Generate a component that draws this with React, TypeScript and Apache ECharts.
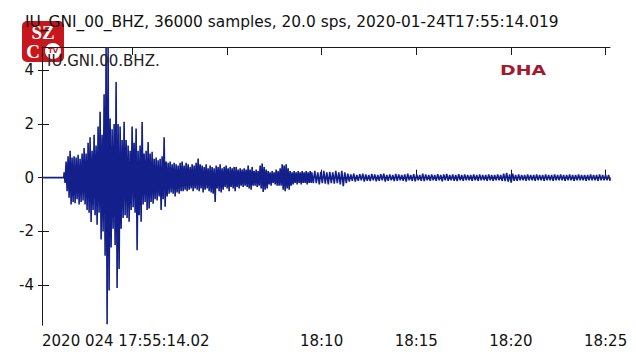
import React, { useEffect, useRef } from "react";
import * as echarts from "echarts";

const TITLE = "IU_GNI_00_BHZ, 36000 samples, 20.0 sps, 2020-01-24T17:55:14.019";
const STATION = "IU.GNI.00.BHZ.";
const START_LABEL = "2020 024 17:55:14.02";
const DURATION_SEC = 1800;
const Y_MIN = -5.48;
const Y_MAX = 4.86;
const yTicks = [-4, -2, 0, 2, 4];
const xTickSeconds = [285.98, 585.98, 885.98, 1185.98, 1485.98, 1785.98];
const xTickLabels = ["18:00", "18:05", "18:10", "18:15", "18:20", "18:25"];
const xLabelShown = [false, false, true, true, true, true];

// Envelope of the trace (peak up / peak down)
const denseStartSec = 70;
const denseStepSec = 6.34;
const denseUpper = [
  0.2, 0.6, 0.8, 1.0, 0.75, 0.8, 0.75, 0.85, 0.7, 0.9,
  1.1, 0.9, 1.3, 1.5, 1.0, 1.6, 1.2, 1.9, 2.45, 1.6,
  3.1, 4.86, 4.86, 2.2, 1.8, 2.0, 3.56, 2.0, 1.9, 1.4,
  2.08, 1.4, 1.2, 1.0, 1.9, 1.3, 1.83, 1.0, 1.2, 2.07,
  0.9, 1.0, 1.33, 0.9, 0.96, 0.7, 0.75, 0.65, 0.7, 0.8,
  1.5, 0.6, 0.55, 0.6, 0.5, 0.55, 0.5, 0.45, 0.55, 0.6,
  0.45, 0.55, 0.5, 0.4, 0.5, 0.45, 0.55, 0.71, 0.5, 0.45,
  0.4, 0.5, 0.35, 0.45, 0.4, 0.35, 0.45, 0.4, 0.5, 0.35,
  0.4, 0.45, 0.35, 0.4, 0.35, 0.4, 0.4, 0.3, 0.35, 0.3,
  0.35, 0.3, 0.45, 0.3, 0.4, 0.25, 0.3, 0.25, 0.45, 0.53,
  0.4, 0.3, 0.25, 0.2, 0.25, 0.2, 0.3, 0.25, 0.35, 0.5,
  0.45, 0.5, 0.35, 0.25, 0.2, 0.25, 0.2, 0.25, 0.2, 0.25,
  0.2, 0.25, 0.2, 0.25,
];
const denseLower = [
  -0.2, -0.5, -0.75, -1.0, -0.9, -0.95, -0.8, -1.0, -0.9, -0.85,
  -1.0, -1.2, -1.3, -1.65, -1.2, -1.4, -1.75, -1.3, -2.3, -2.0,
  -2.9, -5.45, -4.2, -2.6, -1.9, -2.5, -4.1, -3.4, -1.9, -1.5,
  -1.4, -1.5, -1.64, -1.2, -1.1, -1.3, -2.7, -1.4, -1.64, -1.0,
  -0.9, -1.2, -1.15, -0.9, -0.97, -0.8, -0.85, -0.7, -1.2, -0.8,
  -1.08, -0.7, -0.6, -0.55, -0.6, -0.7, -0.55, -0.6, -0.5, -0.5,
  -0.45, -0.5, -0.45, -0.4, -0.5, -0.4, -0.45, -0.5, -0.4, -0.55,
  -0.45, -0.4, -0.5, -0.55, -0.6, -0.9, -0.4, -0.5, -0.55, -0.45,
  -0.35, -0.4, -0.5, -0.35, -0.4, -0.5, -0.35, -0.4, -0.3, -0.35,
  -0.3, -0.35, -0.4, -0.45, -0.3, -0.3, -0.35, -0.3, -0.4, -0.53,
  -0.45, -0.4, -0.25, -0.3, -0.2, -0.25, -0.3, -0.3, -0.3, -0.45,
  -0.5, -0.4, -0.45, -0.3, -0.25, -0.2, -0.25, -0.2, -0.25, -0.2,
  -0.2, -0.25, -0.2, -0.2,
];
const tailStartSec = 855;
const tailStepSec = 9.5;
const tailUpper = [
  0.2, 0.25, 0.2, 0.22, 0.25, 0.2, 0.22, 0.2, 0.25, 0.2,
  0.25, 0.2, 0.15, 0.12, 0.15, 0.1, 0.13, 0.15, 0.12, 0.1,
  0.14, 0.12, 0.1, 0.13, 0.15, 0.1, 0.12, 0.1, 0.14, 0.12,
  0.1, 0.12, 0.15, 0.1, 0.13, 0.12, 0.1, 0.15, 0.12, 0.1,
  0.12, 0.1, 0.13, 0.1, 0.12, 0.14, 0.1, 0.12, 0.1, 0.13,
  0.1, 0.12, 0.1, 0.1, 0.12, 0.1, 0.12, 0.1, 0.1, 0.12,
  0.1, 0.1, 0.12, 0.1, 0.15, 0.18, 0.12, 0.15, 0.1, 0.12,
  0.1, 0.1, 0.12, 0.1, 0.1, 0.12, 0.1, 0.1, 0.12, 0.1,
  0.1, 0.12, 0.1, 0.12, 0.1, 0.1, 0.12, 0.1, 0.1, 0.12,
  0.1, 0.1, 0.1, 0.12, 0.1, 0.1, 0.12, 0.1, 0.1, 0.1,
];
const tailLower = [
  -0.2, -0.2, -0.25, -0.2, -0.22, -0.25, -0.2, -0.22, -0.2, -0.25,
  -0.32, -0.2, -0.15, -0.12, -0.15, -0.12, -0.1, -0.15, -0.12, -0.13,
  -0.1, -0.14, -0.12, -0.1, -0.15, -0.12, -0.1, -0.13, -0.12, -0.1,
  -0.12, -0.15, -0.1, -0.12, -0.14, -0.1, -0.12, -0.13, -0.1, -0.12,
  -0.1, -0.12, -0.1, -0.14, -0.1, -0.12, -0.1, -0.12, -0.13, -0.1,
  -0.12, -0.1, -0.1, -0.12, -0.1, -0.12, -0.1, -0.1, -0.12, -0.1,
  -0.12, -0.1, -0.1, -0.12, -0.13, -0.15, -0.18, -0.12, -0.12, -0.1,
  -0.1, -0.12, -0.1, -0.1, -0.12, -0.1, -0.1, -0.12, -0.1, -0.1,
  -0.12, -0.1, -0.1, -0.1, -0.12, -0.1, -0.1, -0.12, -0.1, -0.1,
  -0.1, -0.12, -0.1, -0.1, -0.1, -0.12, -0.1, -0.1, -0.1, -0.12,
];

const FONT = "DejaVu Sans";
const TRACE_COLOR = "#13208c";
const AXIS_COLOR = "#1a1a1a";

function buildTrace(): [number, number][] {
  const pts: [number, number][] = [[0, 0], [denseStartSec - 1, 0]];
  denseUpper.forEach((u, i) => {
    const t = denseStartSec + i * denseStepSec;
    pts.push([t, u]);
    pts.push([t + denseStepSec / 2, denseLower[i]]);
  });
  tailUpper.forEach((u, i) => {
    const t = tailStartSec + i * tailStepSec;
    pts.push([t, u]);
    pts.push([t + tailStepSec / 2, tailLower[i]]);
  });
  pts.push([DURATION_SEC, 0]);
  return pts;
}

export default function App() {
  const ref = useRef<HTMLDivElement>(null);
  useEffect(() => {
    if (!ref.current) return;
    const chart = echarts.init(ref.current, null, { renderer: "svg" });
    const labelFor = (v: number) => {
      const i = xTickSeconds.findIndex((s) => Math.abs(s - v) < 0.5);
      return i >= 0 ? xTickLabels[i] : "";
    };
    chart.setOption({
      animation: false,
      backgroundColor: "#ffffff",
      title: {
        text: TITLE,
        left: 20,
        top: 9,
        textStyle: { fontFamily: FONT, fontSize: 15.4, fontWeight: "normal", color: "#111" },
      },
      grid: { left: 42, right: 26, top: 47, bottom: 35 },
      xAxis: [
        {
          type: "value",
          min: 0,
          max: DURATION_SEC,
          position: "bottom",
          splitLine: { show: false },
          axisLine: { show: true, lineStyle: { color: AXIS_COLOR, width: 1 } },
          axisTick: { show: true, inside: true, length: 8, customValues: xTickSeconds, lineStyle: { color: AXIS_COLOR } },
          axisLabel: {
            show: true,
            customValues: xTickSeconds.filter((_, i) => xLabelShown[i]),
            formatter: labelFor,
            margin: 8,
            fontFamily: FONT,
            fontSize: 15,
            color: "#111",
          },
        },
        {
          type: "value",
          min: 0,
          max: DURATION_SEC,
          position: "bottom",
          splitLine: { show: false },
          axisLine: { show: false },
          axisTick: { show: false },
          axisLabel: {
            show: true,
            customValues: [0],
            formatter: () => START_LABEL,
            align: "left",
            margin: 8,
            fontFamily: FONT,
            fontSize: 15,
            color: "#111",
          },
        },
        {
          type: "value",
          min: 0,
          max: DURATION_SEC,
          position: "top",
          splitLine: { show: false },
          axisLine: { show: true, lineStyle: { color: AXIS_COLOR, width: 1 } },
          axisTick: { show: true, inside: true, length: 8, customValues: xTickSeconds, lineStyle: { color: AXIS_COLOR } },
          axisLabel: { show: false },
        },
      ],
      yAxis: [
        {
          type: "value",
          min: Y_MIN,
          max: Y_MAX,
          position: "left",
          splitLine: { show: false },
          axisLine: { show: true, lineStyle: { color: AXIS_COLOR, width: 1 } },
          axisTick: { show: true, inside: false, length: 4, customValues: yTicks, lineStyle: { color: AXIS_COLOR } },
          axisLabel: {
            show: true,
            customValues: yTicks,
            margin: 8,
            fontFamily: FONT,
            fontSize: 15,
            color: "#111",
          },
        },
        {
          type: "value",
          min: Y_MIN,
          max: Y_MAX,
          position: "right",
          splitLine: { show: false },
          axisLine: { show: true, lineStyle: { color: AXIS_COLOR, width: 1 } },
          axisTick: { show: true, inside: false, length: 7, customValues: yTicks, lineStyle: { color: AXIS_COLOR } },
          axisLabel: { show: false },
        },
      ],
      series: [
        {
          type: "line",
          xAxisIndex: 0,
          yAxisIndex: 0,
          data: buildTrace(),
          showSymbol: false,
          symbol: "none",
          lineStyle: { color: TRACE_COLOR, width: 1.6 },
          clip: true,
          z: 2,
        },
      ],
      graphic: [
        {
          type: "text",
          x: 47,
          y: 61,
          z: 5,
          style: { text: STATION, fill: "#222", font: `15px "${FONT}"`, align: "left", verticalAlign: "middle" },
        },
        {
          type: "text",
          x: 500,
          y: 70,
          scaleX: 1.35,
          z: 5,
          style: { text: "DHA", fill: "#a3192f", font: `bold 14px "${FONT}"`, align: "left", verticalAlign: "middle" },
        },
        {
          type: "group",
          x: 22,
          y: 21,
          z: 10,
          children: [
            { type: "rect", shape: { x: 0, y: 0, width: 42, height: 41, r: 5 }, style: { fill: "#c8161d" } },
            {
              type: "text",
              x: 21,
              y: 11,
              style: { text: "SZ", fill: "#fff", font: 'bold 19px "Liberation Serif"', align: "center", verticalAlign: "middle" },
            },
            {
              type: "text",
              x: 11,
              y: 30,
              style: { text: "C", fill: "#fff", font: 'bold 19px "Liberation Serif"', align: "center", verticalAlign: "middle" },
            },
            { type: "circle", shape: { cx: 31, cy: 30, r: 8 }, style: { fill: "#fff" } },
            {
              type: "text",
              x: 31,
              y: 30,
              style: { text: "TV", fill: "#c8161d", font: `bold 7px "${FONT}"`, align: "center", verticalAlign: "middle" },
            },
          ],
        },
      ],
    });
    return () => chart.dispose();
  }, []);
  return (
    <div
      ref={ref}
      style={{ position: "absolute", left: 0, top: 0, width: 636, height: 360, background: "#fff" }}
    />
  );
}
